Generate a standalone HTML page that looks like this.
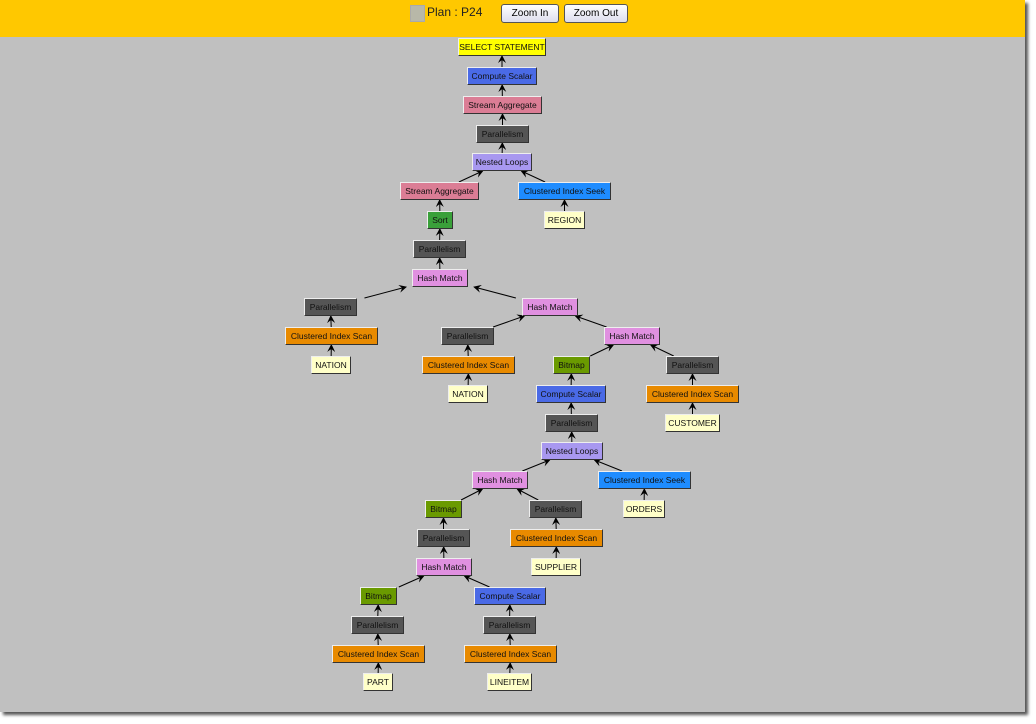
<!DOCTYPE html>
<html><head><meta charset="utf-8"><style>
body{margin:0;width:1036px;height:724px;background:#fff;position:relative;overflow:hidden;font-family:"Liberation Sans",sans-serif}
#frame{position:absolute;left:0;top:0;width:1025px;height:712px;background:#c0c0c0;box-shadow:3px 3px 3px #555}
#bar{position:absolute;left:0;top:0;width:1025px;height:37px;background:#ffc800}
.sq{position:absolute;left:410px;top:5px;width:13px;height:15px;background:#b8b8a8;border:1px solid #aaa}
.pl{position:absolute;left:427px;top:5px;font-size:12px;color:#222}
.btn{position:absolute;top:4px;height:17px;border:1px solid #555;border-radius:3px;background:linear-gradient(#fff,#dde);font-size:10px;text-align:center;line-height:17px}
.n{position:absolute;height:16px;font-size:8.5px;line-height:16px;text-align:center;white-space:nowrap;border:1px solid;border-color:#eee #333 #333 #eee;box-sizing:content-box}
svg{position:absolute;left:0;top:0}
</style></head><body>
<div id="frame"></div>
<div id="bar"><div class="sq"></div><div class="pl">Plan : P24</div>
<div class="btn" style="left:501px;width:56px">Zoom In</div>
<div class="btn" style="left:564px;width:62px">Zoom Out</div></div>
<svg width="1036" height="724" id="s"><defs><marker id="a" markerWidth="8" markerHeight="8" refX="7" refY="4" orient="auto" markerUnits="userSpaceOnUse"><path d="M0,0 L8,4 L0,8 L3,4z" fill="#000"/></marker></defs></svg>
<div id="nodes"></div>
<script>
var C={y:'#ffff00',b:'#4a6ae6',p:'#db7d95',g:'#555555',l:'#a898f0',c:'#1e8cff',w:'#ffffc8',s:'#3aa03a',h:'#e090e0',o:'#e88a00',m:'#6a9a00'};
var N=[
['SELECT STATEMENT',458,38,88,'y',-1],
['Compute Scalar',467,67,70,'b',0],
['Stream Aggregate',463,96,79,'p',1],
['Parallelism',476,125,53,'g',2],
['Nested Loops',472,153,60,'l',3],
['Stream Aggregate',400,182,79,'p',4],
['Clustered Index Seek',518,182,93,'c',4],
['REGION',544,211,41,'w',6],
['Sort',427,211,26,'s',5],
['Parallelism',413,240,53,'g',8],
['Hash Match',412,269,56,'h',9],
['Parallelism',304,298,53,'g',10],
['Hash Match',522,298,56,'h',10],
['Clustered Index Scan',285,327,93,'o',11],
['NATION',311,356,40,'w',13],
['Parallelism',441,327,53,'g',12],
['Hash Match',604,327,56,'h',12],
['Clustered Index Scan',422,356,93,'o',15],
['NATION',448,385,40,'w',17],
['Bitmap',553,356,37,'m',16],
['Parallelism',666,356,53,'g',16],
['Compute Scalar',536,385,70,'b',19],
['Clustered Index Scan',646,385,93,'o',20],
['CUSTOMER',665,414,55,'w',22],
['Parallelism',545,414,53,'g',21],
['Nested Loops',541,442,62,'l',24],
['Hash Match',472,471,56,'h',25],
['Clustered Index Seek',598,471,93,'c',25],
['ORDERS',623,500,42,'w',27],
['Bitmap',425,500,37,'m',26],
['Parallelism',529,500,53,'g',26],
['Parallelism',417,529,53,'g',29],
['Clustered Index Scan',510,529,93,'o',30],
['SUPPLIER',531,558,50,'w',32],
['Hash Match',416,558,56,'h',31],
['Bitmap',360,587,37,'m',34],
['Compute Scalar',474,587,72,'b',34],
['Parallelism',351,616,53,'g',35],
['Parallelism',483,616,53,'g',36],
['Clustered Index Scan',332,645,93,'o',37],
['Clustered Index Scan',464,645,93,'o',38],
['PART',363,673,30,'w',39],
['LINEITEM',487,673,45,'w',40]];
var H=18,html='',svg='';
function clip(b,cx,cy,dx,dy){var t=1e9;if(dx)t=Math.min(t,(b[2]/2)/Math.abs(dx));if(dy)t=Math.min(t,(H/2)/Math.abs(dy));return [cx+dx*t,cy+dy*t];}
N.forEach(function(n){var fg=(n[4]=='g'||n[4]=='c'&&0)?'#ddd':'#111';
html+='<div class="n" style="left:'+n[1]+'px;top:'+n[2]+'px;width:'+(n[3]-2)+'px;background:'+C[n[4]]+';color:'+(n[4]=='g'?'#111':'#111')+'">'+n[0]+'</div>';
if(n[5]>=0){var p=N[n[5]];var cx=n[1]+n[3]/2,cy=n[2]+H/2,px=p[1]+p[3]/2,py=p[2]+H/2;var dx=px-cx,dy=py-cy;
var a=clip(n,cx,cy,dx,dy),b=clip(p,px,py,-dx,-dy);
svg+='<line x1="'+a[0]+'" y1="'+a[1]+'" x2="'+b[0]+'" y2="'+b[1]+'" stroke="#000" stroke-width="1" marker-end="url(#a)"/>';}});
document.getElementById('nodes').innerHTML=html;
document.getElementById('s').innerHTML+=svg;
</script>
</body></html>
